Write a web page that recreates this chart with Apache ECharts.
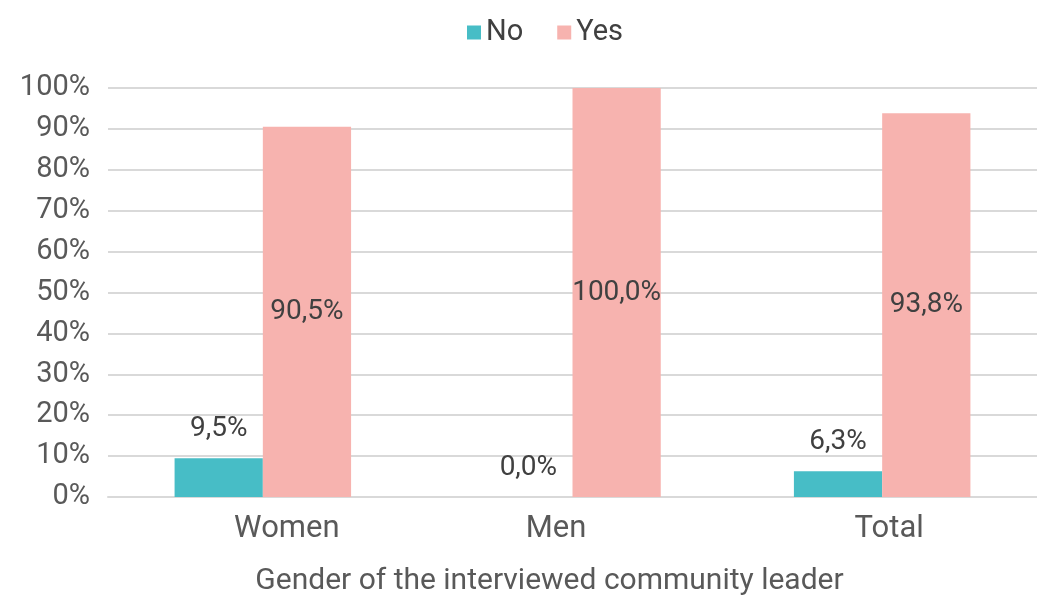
<!DOCTYPE html>
<html>
<head>
<meta charset="utf-8">
<script src="https://cdn.jsdelivr.net/npm/echarts@6/dist/echarts.min.js"></script>
<style>html,body{margin:0;padding:0;background:#fff;}#c{width:1037px;height:601px;}</style>
</head>
<body>
<div id="c"></div>
<script>
const categories = ['Women', 'Men', 'Total'];
const noValues = [9.5, 0.0, 6.3];
const yesValues = [90.5, 100.0, 93.8];
const yTicks = [0, 10, 20, 30, 40, 50, 60, 70, 80, 90, 100];
const seriesNames = ['No', 'Yes'];
const xAxisTitle = 'Gender of the interviewed community leader';

// label nudges (style only): horizontal padding per category label
const labelPad = {Women: [0, 0, 0, 48], Men: [0, 33, 0, 0], Total: [0, 0, 0, 14]};
const richStyles = {};
categories.forEach((c, i) => {
  richStyles['c' + i] = {fontFamily: 'Roboto', fontSize: 31, color: '#595959', padding: labelPad[c] || [0, 0, 0, 0]};
});

const chart = echarts.init(document.getElementById('c'), null, {renderer: 'canvas'});
const fmt = v => v.toFixed(1).replace('.', ',') + '%';
chart.setOption({
  animation: false,
  backgroundColor: '#fff',
  textStyle: {fontFamily: 'Roboto'},
  legend: {
    data: seriesNames,
    left: 462, top: 13,
    icon: 'rect', itemWidth: 14, itemHeight: 14, itemGap: 34,
    textStyle: {fontFamily: 'Roboto', fontSize: 29, color: '#404040'}
  },
  grid: {left: 108, right: -7, top: 88, bottom: 100, containLabel: false},
  xAxis: {
    type: 'category',
    data: categories,
    name: xAxisTitle,
    nameLocation: 'middle',
    nameGap: 69,
    nameTextStyle: {fontFamily: 'Roboto', fontSize: 30, color: '#595959', padding: [0, 46, 0, 0]},
    axisLine: {show: true, lineStyle: {color: '#d9d9d9', width: 2}},
    axisTick: {show: false},
    axisLabel: {
      margin: 17,
      formatter: (v, i) => '{c' + i + '|' + v + '}',
      rich: richStyles
    }
  },
  yAxis: {
    type: 'value',
    min: yTicks[0], max: yTicks[yTicks.length - 1], interval: 10,
    axisLine: {show: false},
    axisTick: {show: false},
    splitLine: {lineStyle: {color: '#d9d9d9', width: 2}},
    axisLabel: {fontFamily: 'Roboto', fontSize: 29, color: '#595959', margin: 18, formatter: v => v + '%'}
  },
  series: [
    {
      name: seriesNames[0], type: 'bar', data: noValues,
      barWidth: '28.5%', barGap: '0%',
      itemStyle: {color: '#47BDC6'},
      label: {show: true, position: 'top', distance: 15, fontFamily: 'Roboto', fontSize: 28, color: '#404040', formatter: p => fmt(p.value)}
    },
    {
      name: seriesNames[1], type: 'bar', data: yesValues,
      barWidth: '28.5%', barGap: '0%',
      itemStyle: {color: '#F7B3AF'},
      label: {show: true, position: 'inside', fontFamily: 'Roboto', fontSize: 28, color: '#404040', formatter: p => fmt(p.value)}
    }
  ]
});
</script>
</body>
</html>
